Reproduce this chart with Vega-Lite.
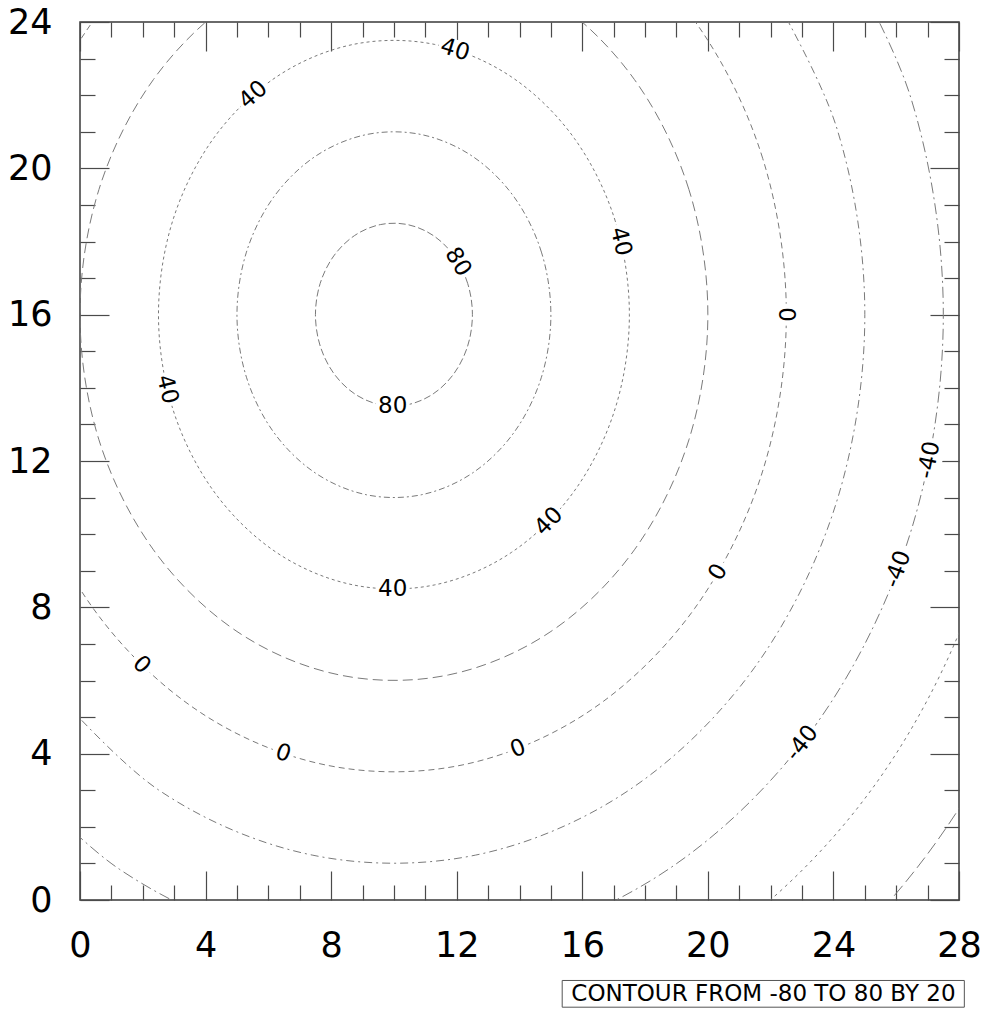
{
  "$schema": "https://vega.github.io/schema/vega-lite/v6.json",
  "width": 879,
  "height": 878,
  "autosize": {"type": "none"},
  "padding": {"left": 80, "top": 22, "right": 29, "bottom": 116},
  "background": "white",
  "config": {
    "view": {"stroke": "#3a3a3a", "strokeWidth": 1.5},
    "font": "DejaVu Sans",
    "axis": {"domain": false, "grid": false, "title": null, "tickColor": "#4a4a4a", "tickWidth": 1.2, "labelFont": "DejaVu Sans", "labelColor": "black", "labelFontSize": 35, "labelFlush": false, "labelOverlap": false}
  },
  "datasets": {
    "contours": [
      {"level": 80, "i": 0, "x": 12.5, "y": 16},
      {"level": 80, "i": 1, "x": 12.349, "y": 16.855},
      {"level": 80, "i": 2, "x": 11.915, "y": 17.607},
      {"level": 80, "i": 3, "x": 11.25, "y": 18.165},
      {"level": 80, "i": 4, "x": 10.434, "y": 18.462},
      {"level": 80, "i": 5, "x": 9.566, "y": 18.462},
      {"level": 80, "i": 6, "x": 8.75, "y": 18.165},
      {"level": 80, "i": 7, "x": 8.085, "y": 17.607},
      {"level": 80, "i": 8, "x": 7.651, "y": 16.855},
      {"level": 80, "i": 9, "x": 7.5, "y": 16},
      {"level": 80, "i": 10, "x": 7.651, "y": 15.145},
      {"level": 80, "i": 11, "x": 8.085, "y": 14.393},
      {"level": 80, "i": 12, "x": 8.75, "y": 13.835},
      {"level": 80, "i": 13, "x": 9.566, "y": 13.538},
      {"level": 80, "i": 14, "x": 10.434, "y": 13.538},
      {"level": 80, "i": 15, "x": 11.25, "y": 13.835},
      {"level": 80, "i": 16, "x": 11.915, "y": 14.393},
      {"level": 80, "i": 17, "x": 12.349, "y": 15.145},
      {"level": 60, "i": 0, "x": 15, "y": 16},
      {"level": 60, "i": 1, "x": 14.698, "y": 17.71},
      {"level": 60, "i": 2, "x": 13.83, "y": 19.214},
      {"level": 60, "i": 3, "x": 12.5, "y": 20.33},
      {"level": 60, "i": 4, "x": 10.868, "y": 20.924},
      {"level": 60, "i": 5, "x": 9.132, "y": 20.924},
      {"level": 60, "i": 6, "x": 7.5, "y": 20.33},
      {"level": 60, "i": 7, "x": 6.17, "y": 19.214},
      {"level": 60, "i": 8, "x": 5.302, "y": 17.71},
      {"level": 60, "i": 9, "x": 5, "y": 16},
      {"level": 60, "i": 10, "x": 5.302, "y": 14.29},
      {"level": 60, "i": 11, "x": 6.17, "y": 12.786},
      {"level": 60, "i": 12, "x": 7.5, "y": 11.67},
      {"level": 60, "i": 13, "x": 9.132, "y": 11.076},
      {"level": 60, "i": 14, "x": 10.868, "y": 11.076},
      {"level": 60, "i": 15, "x": 12.5, "y": 11.67},
      {"level": 60, "i": 16, "x": 13.83, "y": 12.786},
      {"level": 60, "i": 17, "x": 14.698, "y": 14.29},
      {"level": 40, "i": 0, "x": 17.5, "y": 16},
      {"level": 40, "i": 1, "x": 17.048, "y": 18.565},
      {"level": 40, "i": 2, "x": 15.745, "y": 20.821},
      {"level": 40, "i": 3, "x": 13.75, "y": 22.495},
      {"level": 40, "i": 4, "x": 11.302, "y": 23.386},
      {"level": 40, "i": 5, "x": 8.698, "y": 23.386},
      {"level": 40, "i": 6, "x": 6.25, "y": 22.495},
      {"level": 40, "i": 7, "x": 4.255, "y": 20.821},
      {"level": 40, "i": 8, "x": 2.952, "y": 18.565},
      {"level": 40, "i": 9, "x": 2.5, "y": 16},
      {"level": 40, "i": 10, "x": 2.952, "y": 13.435},
      {"level": 40, "i": 11, "x": 4.255, "y": 11.179},
      {"level": 40, "i": 12, "x": 6.25, "y": 9.505},
      {"level": 40, "i": 13, "x": 8.698, "y": 8.614},
      {"level": 40, "i": 14, "x": 11.302, "y": 8.614},
      {"level": 40, "i": 15, "x": 13.75, "y": 9.505},
      {"level": 40, "i": 16, "x": 15.745, "y": 11.179},
      {"level": 40, "i": 17, "x": 17.048, "y": 13.435},
      {"level": 20, "i": 0, "x": 20, "y": 16},
      {"level": 20, "i": 1, "x": 19.397, "y": 19.42},
      {"level": 20, "i": 2, "x": 17.66, "y": 22.428},
      {"level": 20, "i": 3, "x": 15, "y": 24.66},
      {"level": 20, "i": 4, "x": 11.736, "y": 25.848},
      {"level": 20, "i": 5, "x": 8.264, "y": 25.848},
      {"level": 20, "i": 6, "x": 5, "y": 24.66},
      {"level": 20, "i": 7, "x": 2.34, "y": 22.428},
      {"level": 20, "i": 8, "x": 0.603, "y": 19.42},
      {"level": 20, "i": 9, "x": 0, "y": 16},
      {"level": 20, "i": 10, "x": 0.603, "y": 12.58},
      {"level": 20, "i": 11, "x": 2.34, "y": 9.572},
      {"level": 20, "i": 12, "x": 5, "y": 7.34},
      {"level": 20, "i": 13, "x": 8.264, "y": 6.152},
      {"level": 20, "i": 14, "x": 11.736, "y": 6.152},
      {"level": 20, "i": 15, "x": 15, "y": 7.34},
      {"level": 20, "i": 16, "x": 17.66, "y": 9.572},
      {"level": 20, "i": 17, "x": 19.397, "y": 12.58},
      {"level": 0, "i": 0, "x": 22.5, "y": 16},
      {"level": 0, "i": 1, "x": 21.746, "y": 20.275},
      {"level": 0, "i": 2, "x": 19.575, "y": 24.035},
      {"level": 0, "i": 3, "x": 16.25, "y": 26.825},
      {"level": 0, "i": 4, "x": 12.171, "y": 28.31},
      {"level": 0, "i": 5, "x": 7.829, "y": 28.31},
      {"level": 0, "i": 6, "x": 3.75, "y": 26.825},
      {"level": 0, "i": 7, "x": 0.425, "y": 24.035},
      {"level": 0, "i": 8, "x": -1.746, "y": 20.275},
      {"level": 0, "i": 9, "x": -2.5, "y": 16},
      {"level": 0, "i": 10, "x": -1.746, "y": 11.725},
      {"level": 0, "i": 11, "x": 0.425, "y": 7.965},
      {"level": 0, "i": 12, "x": 3.75, "y": 5.175},
      {"level": 0, "i": 13, "x": 7.829, "y": 3.69},
      {"level": 0, "i": 14, "x": 12.171, "y": 3.69},
      {"level": 0, "i": 15, "x": 16.25, "y": 5.175},
      {"level": 0, "i": 16, "x": 19.575, "y": 7.965},
      {"level": 0, "i": 17, "x": 21.746, "y": 11.725}
    ],
    "arcs": [
      {"level": -20, "i": 0, "x": -1.49, "y": 6.358},
      {"level": -20, "i": 1, "x": 2.5, "y": 3.01},
      {"level": -20, "i": 2, "x": 7.396, "y": 1.228},
      {"level": -20, "i": 3, "x": 12.604, "y": 1.228},
      {"level": -20, "i": 4, "x": 17.5, "y": 3.01},
      {"level": -20, "i": 5, "x": 21.49, "y": 6.358},
      {"level": -20, "i": 6, "x": 24.096, "y": 10.87},
      {"level": -20, "i": 7, "x": 25, "y": 16},
      {"level": -20, "i": 8, "x": 24.096, "y": 21.13},
      {"level": -20, "i": 9, "x": 21.49, "y": 25.642},
      {"level": -40, "i": 0, "x": -3.405, "y": 4.751},
      {"level": -40, "i": 1, "x": 1.25, "y": 0.845},
      {"level": -40, "i": 2, "x": 6.961, "y": -1.234},
      {"level": -40, "i": 3, "x": 13.039, "y": -1.234},
      {"level": -40, "i": 4, "x": 18.75, "y": 0.845},
      {"level": -40, "i": 5, "x": 23.405, "y": 4.751},
      {"level": -40, "i": 6, "x": 26.445, "y": 10.015},
      {"level": -40, "i": 7, "x": 27.5, "y": 16},
      {"level": -40, "i": 8, "x": 26.445, "y": 21.985},
      {"level": -40, "i": 9, "x": 23.405, "y": 27.249},
      {"level": -60, "i": 0, "x": 13.473, "y": -3.696},
      {"level": -60, "i": 1, "x": 20, "y": -1.32},
      {"level": -60, "i": 2, "x": 25.32, "y": 3.144},
      {"level": -60, "i": 3, "x": 28.794, "y": 9.16},
      {"level": -60, "i": 4, "x": 30, "y": 16},
      {"level": -80, "i": 0, "x": 21.25, "y": -3.486},
      {"level": -80, "i": 1, "x": 24.463, "y": -1.235},
      {"level": -80, "i": 2, "x": 27.236, "y": 1.537},
      {"level": -80, "i": 3, "x": 29.485, "y": 4.75},
      {"level": -80, "i": 4, "x": 31.143, "y": 8.305}
    ],
    "labels": [
      {"id": 1, "t": "80", "x": 12.04, "y": 17.44},
      {"id": 2, "t": "80", "x": 9.96, "y": 13.5},
      {"id": 3, "t": "40", "x": 11.95, "y": 23.24},
      {"id": 4, "t": "40", "x": 5.52, "y": 22.01},
      {"id": 5, "t": "40", "x": 17.23, "y": 18.0},
      {"id": 6, "t": "40", "x": 2.78, "y": 13.96},
      {"id": 7, "t": "40", "x": 14.93, "y": 10.35},
      {"id": 8, "t": "40", "x": 9.96, "y": 8.5},
      {"id": 9, "t": "0", "x": 22.5, "y": 16},
      {"id": 10, "t": "0", "x": 20.33, "y": 8.96},
      {"id": 11, "t": "0", "x": 13.95, "y": 4.14},
      {"id": 12, "t": "0", "x": 6.47, "y": 4.01},
      {"id": 13, "t": "0", "x": 1.965, "y": 6.425},
      {"id": 14, "t": "-40", "x": 27.05, "y": 12.03},
      {"id": 15, "t": "-40", "x": 26.05, "y": 9.04},
      {"id": 16, "t": "-40", "x": 23.0, "y": 4.29}
    ],
    "note": [{"t": "CONTOUR FROM -80 TO 80 BY 20"}]
  },
  "layer": [
    {
      "data": {"name": "contours"},
      "mark": {"type": "line", "interpolate": "cardinal-closed", "clip": true, "stroke": "#7a7a7a", "strokeWidth": 1},
      "encoding": {
        "x": {"field": "x", "type": "quantitative", "scale": {"domain": [0, 28], "nice": false, "zero": false},
              "axis": {"orient": "bottom", "values": [0, 4, 8, 12, 16, 20, 24, 28], "tickSize": -29, "labelPadding": 57}},
        "y": {"field": "y", "type": "quantitative", "scale": {"domain": [0, 24], "nice": false, "zero": false},
              "axis": {"orient": "left", "values": [0, 4, 8, 12, 16, 20, 24], "tickSize": -29, "labelPadding": 57}},
        "order": {"field": "i", "type": "quantitative"},
        "strokeDash": {"field": "level", "type": "ordinal", "legend": null,
          "scale": {"domain": [80, 60, 40, 20, 0, -20, -40, -60, -80],
                    "range": [[7, 3], [6, 3, 2, 3], [3, 3], [10, 5], [6, 4], [8, 4, 2, 4], [11, 4, 2, 4], [3, 4], [13, 5]]}}
      }
    },
    {
      "data": {"name": "arcs"},
      "mark": {"type": "line", "interpolate": "cardinal", "clip": true, "stroke": "#7a7a7a", "strokeWidth": 1},
      "encoding": {
        "x": {"field": "x", "type": "quantitative", "scale": {"domain": [0, 28], "nice": false, "zero": false},
              "axis": {"orient": "top", "values": [0, 4, 8, 12, 16, 20, 24, 28], "tickSize": -29, "labels": false}},
        "y": {"field": "y", "type": "quantitative", "scale": {"domain": [0, 24], "nice": false, "zero": false},
              "axis": {"orient": "right", "values": [0, 4, 8, 12, 16, 20, 24], "tickSize": -29, "labels": false}},
        "order": {"field": "i", "type": "quantitative"},
        "strokeDash": {"field": "level", "type": "ordinal", "legend": null,
          "scale": {"domain": [80, 60, 40, 20, 0, -20, -40, -60, -80],
                    "range": [[7, 3], [6, 3, 2, 3], [3, 3], [10, 5], [6, 4], [8, 4, 2, 4], [11, 4, 2, 4], [3, 4], [13, 5]]}}
      }
    },
    {
      "data": {"name": "labels"},
      "mark": {"type": "point", "opacity": 0},
      "encoding": {
        "x": {"field": "x", "type": "quantitative", "scale": {"domain": [0, 28], "nice": false, "zero": false},
              "axis": {"orient": "bottom", "values": [1, 2, 3, 5, 6, 7, 9, 10, 11, 13, 14, 15, 17, 18, 19, 21, 22, 23, 25, 26, 27], "tickSize": -15, "labels": false}},
        "y": {"field": "y", "type": "quantitative", "scale": {"domain": [0, 24], "nice": false, "zero": false},
              "axis": {"orient": "left", "values": [1, 2, 3, 5, 6, 7, 9, 10, 11, 13, 14, 15, 17, 18, 19, 21, 22, 23], "tickSize": -15, "labels": false}}
      }
    },
    {
      "data": {"name": "labels"},
      "mark": {"type": "point", "opacity": 0},
      "encoding": {
        "x": {"field": "x", "type": "quantitative", "scale": {"domain": [0, 28], "nice": false, "zero": false},
              "axis": {"orient": "top", "values": [1, 2, 3, 5, 6, 7, 9, 10, 11, 13, 14, 15, 17, 18, 19, 21, 22, 23, 25, 26, 27], "tickSize": -15, "labels": false}},
        "y": {"field": "y", "type": "quantitative", "scale": {"domain": [0, 24], "nice": false, "zero": false},
              "axis": {"orient": "right", "values": [1, 2, 3, 5, 6, 7, 9, 10, 11, 13, 14, 15, 17, 18, 19, 21, 22, 23], "tickSize": -15, "labels": false}}
      }
    },
    {"data": {"name": "labels"}, "transform": [{"filter": "datum.id == 1"}],
     "encoding": {"x": {"field": "x", "type": "quantitative", "scale": {"domain": [0, 28], "nice": false, "zero": false}, "axis": null}, "y": {"field": "y", "type": "quantitative", "scale": {"domain": [0, 24], "nice": false, "zero": false}, "axis": null}},
     "layer": [
       {"mark": {"type": "point", "shape": "M-1,-0.6L1,-0.6L1,0.6L-1,0.6Z", "size": 1156, "angle": 58.8, "filled": true, "fill": "white", "strokeWidth": 0, "opacity": 1}},
       {"mark": {"type": "text", "angle": 58.8, "fontSize": 23, "font": "DejaVu Sans", "fill": "black", "align": "center", "baseline": "middle"}, "encoding": {"text": {"field": "t"}}}
     ]},
    {"data": {"name": "labels"}, "transform": [{"filter": "datum.id == 2"}],
     "encoding": {"x": {"field": "x", "type": "quantitative", "scale": {"domain": [0, 28], "nice": false, "zero": false}, "axis": null}, "y": {"field": "y", "type": "quantitative", "scale": {"domain": [0, 24], "nice": false, "zero": false}, "axis": null}},
     "layer": [
       {"mark": {"type": "point", "shape": "M-1,-0.6L1,-0.6L1,0.6L-1,0.6Z", "size": 1156, "angle": 0, "filled": true, "fill": "white", "strokeWidth": 0, "opacity": 1}},
       {"mark": {"type": "text", "angle": 0, "fontSize": 23, "font": "DejaVu Sans", "fill": "black", "align": "center", "baseline": "middle"}, "encoding": {"text": {"field": "t"}}}
     ]},
    {"data": {"name": "labels"}, "transform": [{"filter": "datum.id == 3"}],
     "encoding": {"x": {"field": "x", "type": "quantitative", "scale": {"domain": [0, 28], "nice": false, "zero": false}, "axis": null}, "y": {"field": "y", "type": "quantitative", "scale": {"domain": [0, 24], "nice": false, "zero": false}, "axis": null}},
     "layer": [
       {"mark": {"type": "point", "shape": "M-1,-0.6L1,-0.6L1,0.6L-1,0.6Z", "size": 1156, "angle": 17.4, "filled": true, "fill": "white", "strokeWidth": 0, "opacity": 1}},
       {"mark": {"type": "text", "angle": 17.4, "fontSize": 23, "font": "DejaVu Sans", "fill": "black", "align": "center", "baseline": "middle"}, "encoding": {"text": {"field": "t"}}}
     ]},
    {"data": {"name": "labels"}, "transform": [{"filter": "datum.id == 4"}],
     "encoding": {"x": {"field": "x", "type": "quantitative", "scale": {"domain": [0, 28], "nice": false, "zero": false}, "axis": null}, "y": {"field": "y", "type": "quantitative", "scale": {"domain": [0, 24], "nice": false, "zero": false}, "axis": null}},
     "layer": [
       {"mark": {"type": "point", "shape": "M-1,-0.6L1,-0.6L1,0.6L-1,0.6Z", "size": 1156, "angle": -40.9, "filled": true, "fill": "white", "strokeWidth": 0, "opacity": 1}},
       {"mark": {"type": "text", "angle": -40.9, "fontSize": 23, "font": "DejaVu Sans", "fill": "black", "align": "center", "baseline": "middle"}, "encoding": {"text": {"field": "t"}}}
     ]},
    {"data": {"name": "labels"}, "transform": [{"filter": "datum.id == 5"}],
     "encoding": {"x": {"field": "x", "type": "quantitative", "scale": {"domain": [0, 28], "nice": false, "zero": false}, "axis": null}, "y": {"field": "y", "type": "quantitative", "scale": {"domain": [0, 24], "nice": false, "zero": false}, "axis": null}},
     "layer": [
       {"mark": {"type": "point", "shape": "M-1,-0.6L1,-0.6L1,0.6L-1,0.6Z", "size": 1156, "angle": 76.6, "filled": true, "fill": "white", "strokeWidth": 0, "opacity": 1}},
       {"mark": {"type": "text", "angle": 76.6, "fontSize": 23, "font": "DejaVu Sans", "fill": "black", "align": "center", "baseline": "middle"}, "encoding": {"text": {"field": "t"}}}
     ]},
    {"data": {"name": "labels"}, "transform": [{"filter": "datum.id == 6"}],
     "encoding": {"x": {"field": "x", "type": "quantitative", "scale": {"domain": [0, 28], "nice": false, "zero": false}, "axis": null}, "y": {"field": "y", "type": "quantitative", "scale": {"domain": [0, 24], "nice": false, "zero": false}, "axis": null}},
     "layer": [
       {"mark": {"type": "point", "shape": "M-1,-0.6L1,-0.6L1,0.6L-1,0.6Z", "size": 1156, "angle": 76.3, "filled": true, "fill": "white", "strokeWidth": 0, "opacity": 1}},
       {"mark": {"type": "text", "angle": 76.3, "fontSize": 23, "font": "DejaVu Sans", "fill": "black", "align": "center", "baseline": "middle"}, "encoding": {"text": {"field": "t"}}}
     ]},
    {"data": {"name": "labels"}, "transform": [{"filter": "datum.id == 7"}],
     "encoding": {"x": {"field": "x", "type": "quantitative", "scale": {"domain": [0, 28], "nice": false, "zero": false}, "axis": null}, "y": {"field": "y", "type": "quantitative", "scale": {"domain": [0, 24], "nice": false, "zero": false}, "axis": null}},
     "layer": [
       {"mark": {"type": "point", "shape": "M-1,-0.6L1,-0.6L1,0.6L-1,0.6Z", "size": 1156, "angle": -45.4, "filled": true, "fill": "white", "strokeWidth": 0, "opacity": 1}},
       {"mark": {"type": "text", "angle": -45.4, "fontSize": 23, "font": "DejaVu Sans", "fill": "black", "align": "center", "baseline": "middle"}, "encoding": {"text": {"field": "t"}}}
     ]},
    {"data": {"name": "labels"}, "transform": [{"filter": "datum.id == 8"}],
     "encoding": {"x": {"field": "x", "type": "quantitative", "scale": {"domain": [0, 28], "nice": false, "zero": false}, "axis": null}, "y": {"field": "y", "type": "quantitative", "scale": {"domain": [0, 24], "nice": false, "zero": false}, "axis": null}},
     "layer": [
       {"mark": {"type": "point", "shape": "M-1,-0.6L1,-0.6L1,0.6L-1,0.6Z", "size": 1156, "angle": 0, "filled": true, "fill": "white", "strokeWidth": 0, "opacity": 1}},
       {"mark": {"type": "text", "angle": 0, "fontSize": 23, "font": "DejaVu Sans", "fill": "black", "align": "center", "baseline": "middle"}, "encoding": {"text": {"field": "t"}}}
     ]},
    {"data": {"name": "labels"}, "transform": [{"filter": "datum.id == 9"}],
     "encoding": {"x": {"field": "x", "type": "quantitative", "scale": {"domain": [0, 28], "nice": false, "zero": false}, "axis": null}, "y": {"field": "y", "type": "quantitative", "scale": {"domain": [0, 24], "nice": false, "zero": false}, "axis": null}},
     "layer": [
       {"mark": {"type": "point", "shape": "M-1,-0.6L1,-0.6L1,0.6L-1,0.6Z", "size": 484, "angle": 90, "filled": true, "fill": "white", "strokeWidth": 0, "opacity": 1}},
       {"mark": {"type": "text", "angle": 90, "fontSize": 23, "font": "DejaVu Sans", "fill": "black", "align": "center", "baseline": "middle"}, "encoding": {"text": {"field": "t"}}}
     ]},
    {"data": {"name": "labels"}, "transform": [{"filter": "datum.id == 10"}],
     "encoding": {"x": {"field": "x", "type": "quantitative", "scale": {"domain": [0, 28], "nice": false, "zero": false}, "axis": null}, "y": {"field": "y", "type": "quantitative", "scale": {"domain": [0, 24], "nice": false, "zero": false}, "axis": null}},
     "layer": [
       {"mark": {"type": "point", "shape": "M-1,-0.6L1,-0.6L1,0.6L-1,0.6Z", "size": 484, "angle": -59.6, "filled": true, "fill": "white", "strokeWidth": 0, "opacity": 1}},
       {"mark": {"type": "text", "angle": -59.6, "fontSize": 23, "font": "DejaVu Sans", "fill": "black", "align": "center", "baseline": "middle"}, "encoding": {"text": {"field": "t"}}}
     ]},
    {"data": {"name": "labels"}, "transform": [{"filter": "datum.id == 11"}],
     "encoding": {"x": {"field": "x", "type": "quantitative", "scale": {"domain": [0, 28], "nice": false, "zero": false}, "axis": null}, "y": {"field": "y", "type": "quantitative", "scale": {"domain": [0, 24], "nice": false, "zero": false}, "axis": null}},
     "layer": [
       {"mark": {"type": "point", "shape": "M-1,-0.6L1,-0.6L1,0.6L-1,0.6Z", "size": 484, "angle": -21.2, "filled": true, "fill": "white", "strokeWidth": 0, "opacity": 1}},
       {"mark": {"type": "text", "angle": -21.2, "fontSize": 23, "font": "DejaVu Sans", "fill": "black", "align": "center", "baseline": "middle"}, "encoding": {"text": {"field": "t"}}}
     ]},
    {"data": {"name": "labels"}, "transform": [{"filter": "datum.id == 12"}],
     "encoding": {"x": {"field": "x", "type": "quantitative", "scale": {"domain": [0, 28], "nice": false, "zero": false}, "axis": null}, "y": {"field": "y", "type": "quantitative", "scale": {"domain": [0, 24], "nice": false, "zero": false}, "axis": null}},
     "layer": [
       {"mark": {"type": "point", "shape": "M-1,-0.6L1,-0.6L1,0.6L-1,0.6Z", "size": 484, "angle": 18.9, "filled": true, "fill": "white", "strokeWidth": 0, "opacity": 1}},
       {"mark": {"type": "text", "angle": 18.9, "fontSize": 23, "font": "DejaVu Sans", "fill": "black", "align": "center", "baseline": "middle"}, "encoding": {"text": {"field": "t"}}}
     ]},
    {"data": {"name": "labels"}, "transform": [{"filter": "datum.id == 13"}],
     "encoding": {"x": {"field": "x", "type": "quantitative", "scale": {"domain": [0, 28], "nice": false, "zero": false}, "axis": null}, "y": {"field": "y", "type": "quantitative", "scale": {"domain": [0, 24], "nice": false, "zero": false}, "axis": null}},
     "layer": [
       {"mark": {"type": "point", "shape": "M-1,-0.6L1,-0.6L1,0.6L-1,0.6Z", "size": 484, "angle": 44.3, "filled": true, "fill": "white", "strokeWidth": 0, "opacity": 1}},
       {"mark": {"type": "text", "angle": 44.3, "fontSize": 23, "font": "DejaVu Sans", "fill": "black", "align": "center", "baseline": "middle"}, "encoding": {"text": {"field": "t"}}}
     ]},
    {"data": {"name": "labels"}, "transform": [{"filter": "datum.id == 14"}],
     "encoding": {"x": {"field": "x", "type": "quantitative", "scale": {"domain": [0, 28], "nice": false, "zero": false}, "axis": null}, "y": {"field": "y", "type": "quantitative", "scale": {"domain": [0, 24], "nice": false, "zero": false}, "axis": null}},
     "layer": [
       {"mark": {"type": "point", "shape": "M-1,-0.6L1,-0.6L1,0.6L-1,0.6Z", "size": 1936, "angle": -78.7, "filled": true, "fill": "white", "strokeWidth": 0, "opacity": 1}},
       {"mark": {"type": "text", "angle": -78.7, "fontSize": 23, "font": "DejaVu Sans", "fill": "black", "align": "center", "baseline": "middle"}, "encoding": {"text": {"field": "t"}}}
     ]},
    {"data": {"name": "labels"}, "transform": [{"filter": "datum.id == 15"}],
     "encoding": {"x": {"field": "x", "type": "quantitative", "scale": {"domain": [0, 28], "nice": false, "zero": false}, "axis": null}, "y": {"field": "y", "type": "quantitative", "scale": {"domain": [0, 24], "nice": false, "zero": false}, "axis": null}},
     "layer": [
       {"mark": {"type": "point", "shape": "M-1,-0.6L1,-0.6L1,0.6L-1,0.6Z", "size": 1936, "angle": -69.6, "filled": true, "fill": "white", "strokeWidth": 0, "opacity": 1}},
       {"mark": {"type": "text", "angle": -69.6, "fontSize": 23, "font": "DejaVu Sans", "fill": "black", "align": "center", "baseline": "middle"}, "encoding": {"text": {"field": "t"}}}
     ]},
    {"data": {"name": "labels"}, "transform": [{"filter": "datum.id == 16"}],
     "encoding": {"x": {"field": "x", "type": "quantitative", "scale": {"domain": [0, 28], "nice": false, "zero": false}, "axis": null}, "y": {"field": "y", "type": "quantitative", "scale": {"domain": [0, 24], "nice": false, "zero": false}, "axis": null}},
     "layer": [
       {"mark": {"type": "point", "shape": "M-1,-0.6L1,-0.6L1,0.6L-1,0.6Z", "size": 1936, "angle": -52.3, "filled": true, "fill": "white", "strokeWidth": 0, "opacity": 1}},
       {"mark": {"type": "text", "angle": -52.3, "fontSize": 23, "font": "DejaVu Sans", "fill": "black", "align": "center", "baseline": "middle"}, "encoding": {"text": {"field": "t"}}}
     ]},
    {"data": {"name": "note"},
     "layer": [
       {"mark": {"type": "rect", "fill": "white", "stroke": "#555555", "strokeWidth": 1},
        "encoding": {
          "x": {"datum": 15.36, "type": "quantitative", "scale": {"domain": [0, 28], "nice": false, "zero": false}, "axis": null},
          "x2": {"datum": 28.17},
          "y": {"datum": -2.2, "type": "quantitative", "scale": {"domain": [0, 24], "nice": false, "zero": false}, "axis": null},
          "y2": {"datum": -2.93}
        }},
       {"mark": {"type": "text", "fontSize": 23, "font": "DejaVu Sans", "fill": "black", "align": "center", "baseline": "middle"},
        "encoding": {
          "x": {"datum": 21.77, "type": "quantitative", "scale": {"domain": [0, 28], "nice": false, "zero": false}, "axis": null},
          "y": {"datum": -2.57, "type": "quantitative", "scale": {"domain": [0, 24], "nice": false, "zero": false}, "axis": null},
          "text": {"field": "t"}
        }}
     ]}
  ],
  "resolve": {"axis": {"x": "independent", "y": "independent"}}
}
